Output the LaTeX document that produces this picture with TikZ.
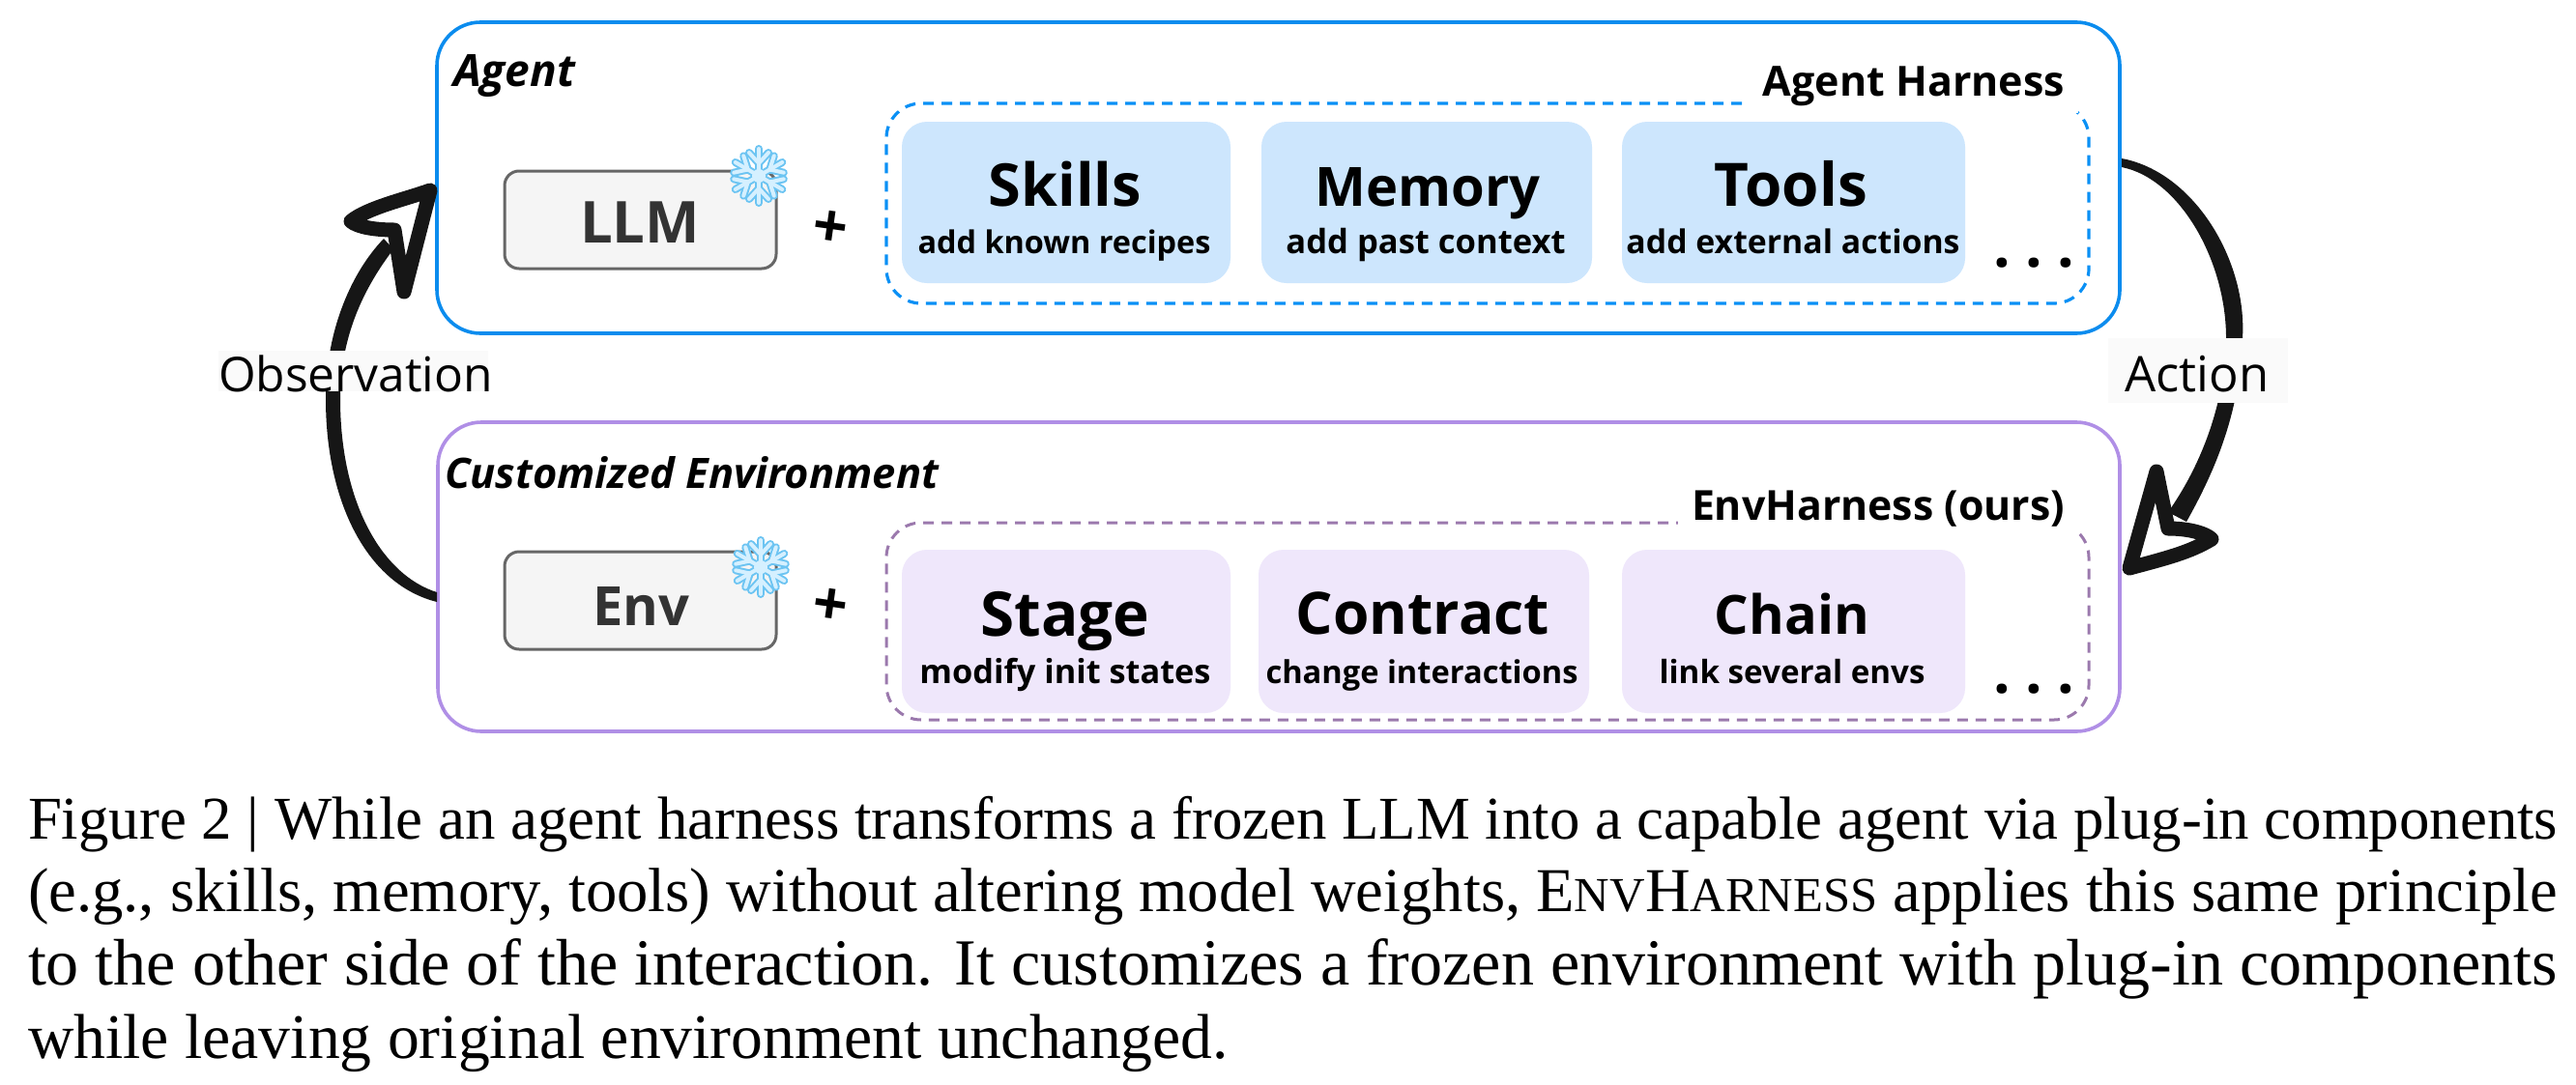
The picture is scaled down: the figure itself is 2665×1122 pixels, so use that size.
\documentclass[tikz,border=0pt]{standalone}
\usepackage{fontspec}
\setmainfont{Liberation Serif}
\newfontfamily\lbl{Open Sans}
\usepackage{graphicx}
\definecolor{agentblue}{HTML}{0B8CEE}
\definecolor{dashblue}{HTML}{0A90F5}
\definecolor{envpurple}{HTML}{B08FE6}
\definecolor{dashpurple}{HTML}{9B79AD}
\definecolor{fillblue}{HTML}{CDE6FD}
\definecolor{fillpurple}{HTML}{EFE7FB}
\definecolor{greyfill}{HTML}{F5F5F5}
\definecolor{greyline}{HTML}{666666}
\definecolor{inkdark}{HTML}{161616}
\definecolor{flakeout}{HTML}{6CC4F2}
\definecolor{flakein}{HTML}{D5F0FF}
\newcommand\fitw[2]{\resizebox{#1pt}{!}{#2}}
\newcommand\bx[7]{\node[#2,minimum width=\the\dimexpr#5pt-#3pt\relax,minimum height=\the\dimexpr#6pt-#4pt\relax] (#1) at ({(#3+#5)/2},{(#4+#6)/2}) {#7};}
\newcommand\flake[2]{%
  \begin{scope}[shift={(#1,#2)}]
    \foreach \cc/\ww in {flakeout/8,flakein/4}{
      \foreach \aa in {30,90,...,330}{
        \begin{scope}[rotate=\aa]
          \draw[\cc,line width=\ww pt,line cap=round] (0,0) -- (28,0);
          \draw[\cc,line width=\ww pt,line cap=round] (13,0) -- (24,10);
          \draw[\cc,line width=\ww pt,line cap=round] (13,0) -- (24,-10);
        \end{scope}
      }
    }
    \fill[flakein] (0,0) circle (7pt);
  \end{scope}}
\newcommand\caplinefont{\fontsize{60}{73}\selectfont}
\tikzset{
  outerbox/.style={draw,line width=3.6pt,rounded corners=45pt,outer sep=0pt,inner sep=0pt},
  agentbox/.style={outerbox,draw=agentblue},
  envbox/.style={outerbox,draw=envpurple},
  harnessA/.style={draw=dashblue,line width=3.2pt,dash pattern=on 11pt off 8pt,rounded corners=36pt,outer sep=0pt,inner sep=0pt},
  harnessB/.style={draw=dashpurple,line width=3pt,dash pattern=on 11pt off 8pt,rounded corners=36pt,outer sep=0pt,inner sep=0pt},
  frozen/.style={draw=greyline,fill=greyfill,line width=3pt,rounded corners=15pt,outer sep=0pt,inner sep=0pt},
  compA/.style={fill=fillblue,rounded corners=26pt,outer sep=0pt,inner sep=0pt},
  compB/.style={fill=fillpurple,rounded corners=26pt,outer sep=0pt,inner sep=0pt},
  txt/.style={inner sep=0pt,outer sep=0pt,anchor=base},
  txtw/.style={txt,fill=white,inner xsep=14pt,inner ysep=8pt},
  capline/.style={inner sep=0pt,outer sep=0pt,anchor=base west,font=\caplinefont},
  head/.style={draw=inkdark,line width=15pt,line join=round,line cap=round},
  shaft/.style={fill=inkdark,draw=none},
  arclabel/.style={fill=white!98!black,inner sep=0pt,outer sep=0pt},
}
\begin{document}
\begin{tikzpicture}[x=1pt,y=-1pt]
\useasboundingbox (0,0) rectangle (2665,1122);
\fill[white] (0,0) rectangle (2665,1122);
% outer boxes
\bx{agentBox}{agentbox}{452}{23}{2193}{345}{}
\bx{envBox}{envbox}{453}{437}{2193}{757}{}
% frozen modules
\bx{llmBox}{frozen}{522}{177}{803}{278}{}
\bx{envCore}{frozen}{522}{571}{803}{672}{}
\node[txt,text=black!80] (llmT) at (662,251) {\lbl\bfseries\fitw{124}{LLM}};
\node[txt,text=black!80] (envT) at (663,647) {\lbl\bfseries\fitw{100}{Env}};
\flake{785}{182}
\flake{787}{587}
% plus
\node[txt,rotate=-8] (plusA) at (856,256) {\lbl\bfseries\fitw{36}{+}};
\node[txt,rotate=-8] (plusB) at (856,647) {\lbl\bfseries\fitw{36}{+}};
% harnesses
\bx{harnA}{harnessA}{917}{107}{2161}{314}{}
\bx{harnB}{harnessB}{917}{541}{2161}{745}{}
\node[txtw] (harnAT) at (1980,99) {\lbl\bfseries\fitw{312}{Agent Harness}};
\node[txtw] (harnBT) at (1943,538) {\lbl\bfseries\fitw{386}{EnvHarness (ours)}};
% components
\bx{skills}{compA}{933}{126}{1273}{293}{}
\bx{memory}{compA}{1305}{126}{1647}{293}{}
\bx{tools}{compA}{1678}{126}{2033}{293}{}
\bx{stage}{compB}{933}{569}{1273}{738}{}
\bx{contract}{compB}{1302}{569}{1644}{738}{}
\bx{chain}{compB}{1678}{569}{2033}{738}{}
\node[txt] (skillsT) at (1102,213) {\lbl\bfseries\fitw{158}{Skills}};
\node[txt] (skillsS) at (1101,262) {\lbl\bfseries\fitw{303}{add known recipes}};
\node[txt] (memoryT) at (1477,213) {\lbl\bfseries\fitw{233}{Memory}};
\node[txt] (memoryS) at (1475,262) {\lbl\bfseries\fitw{289}{add past context}};
\node[txt] (toolsT) at (1853,213) {\lbl\bfseries\fitw{158}{Tools}};
\node[txt] (toolsS) at (1855,262) {\lbl\bfseries\fitw{345}{add external actions}};
\node[txt] (stageT) at (1102,658) {\lbl\bfseries\fitw{175}{Stage}};
\node[txt] (stageS) at (1102,707) {\lbl\bfseries\fitw{301}{modify init states}};
\node[txt] (contractT) at (1472,656) {\lbl\bfseries\fitw{262}{Contract}};
\node[txt] (contractS) at (1471,707) {\lbl\bfseries\fitw{323}{change interactions}};
\node[txt] (chainT) at (1854,656) {\lbl\bfseries\fitw{160}{Chain}};
\node[txt] (chainS) at (1854,707) {\lbl\bfseries\fitw{275}{link several envs}};
% dots
\node[txt] (dotsA) at (2104,276) {\lbl\bfseries\fontsize{62}{62}\selectfont\makebox[33pt]{.}\makebox[33pt]{.}\makebox[33pt]{.}};
\node[txt] (dotsB) at (2104,717) {\lbl\bfseries\fontsize{62}{62}\selectfont\makebox[33pt]{.}\makebox[33pt]{.}\makebox[33pt]{.}};
% headings
\node[txt,anchor=base west] (agentT) at (469,89) {\lbl\bfseries\itshape\fitw{126}{Agent}};
\node[txt,anchor=base west] (custT) at (460,505) {\lbl\bfseries\itshape\fitw{511}{Customized Environment}};
% arrows
\coordinate (actS1) at (2195,164);
\coordinate (actS2) at (2195,173);
\coordinate (actE1) at (2262,540);
\coordinate (actE2) at (2243,530);
\coordinate (obsS1) at (452,623);
\coordinate (obsS2) at (452,613);
\coordinate (obsE1) at (397,247);
\coordinate (obsE2) at (407,258);
\fill[shaft] (actS1) .. controls (2270,178) and (2325,270) .. (2320,350) .. controls (2317,430) and (2290,490) .. (actE1)
  -- (actE2) .. controls (2275,485) and (2302,420) .. (2303,350) .. controls (2303,270) and (2255,185) .. (actS2) -- cycle;
\draw[head] (2203,588) -- (2231,488) -- (2243,547) .. controls (2265,547) and (2282,552) .. (2288,558) .. controls (2265,572) and (2240,578) .. cycle;
\fill[shaft] (obsS1) .. controls (380,605) and (337,520) .. (337,413) .. controls (337,340) and (365,280) .. (obsE1)
  -- (obsE2) .. controls (375,300) and (352,350) .. (352,413) .. controls (352,520) and (395,595) .. (obsS2) -- cycle;
\draw[head] (445,197) -- (418,302) -- (408,238) .. controls (388,238) and (370,235) .. (363,229) .. controls (380,215) and (420,206) .. cycle;
% arrow labels
\node[arclabel,minimum width=186pt,minimum height=67pt] (actBg) at (2274,383.5) {};
\node[arclabel,minimum width=279pt,minimum height=42pt] (obsBg) at (365.5,384) {};
\node[txt] (actT) at (2273,405) {\lbl\fitw{149}{Action}};
\node[txt] (obsT) at (368,405) {\lbl\fitw{284}{Observation}};
% caption
\node[capline] (capA) at (29,868) {\fitw{2617}{Figure 2 | While an agent harness transforms a frozen LLM into a capable agent via plug-in components}};
\node[capline] (capB) at (29,943) {\fitw{2617}{(e.g., skills, memory, tools) without altering model weights, E{\fontsize{47}{73}\selectfont NV}H{\fontsize{47}{73}\selectfont ARNESS} applies this same principle}};
\node[capline] (capC) at (29,1019) {\fitw{2617}{to the other side of the interaction. It customizes a frozen environment with plug-in components}};
\node[capline] (capD) at (29,1095) {\fitw{1242}{while leaving original environment unchanged.}};
\end{tikzpicture}
\end{document}
